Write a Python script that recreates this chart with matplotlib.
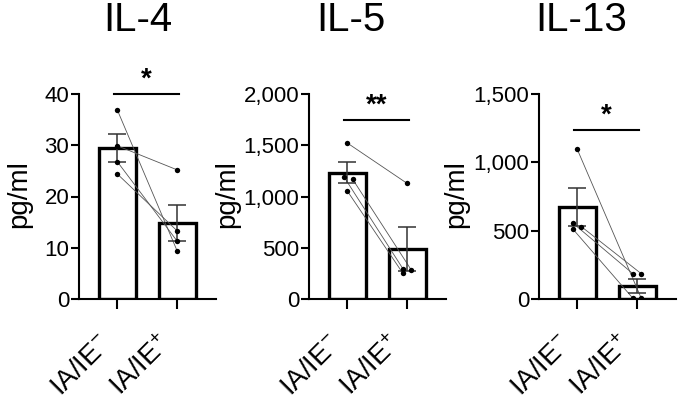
import numpy as np
import matplotlib
matplotlib.use("Agg")
from matplotlib import pyplot as plt
from matplotlib import transforms as mtransforms
from matplotlib.ticker import FuncFormatter, MultipleLocator

plt.rcParams['font.family'] = ['Liberation Sans', 'DejaVu Sans']
plt.rcParams['mathtext.fontset'] = 'custom'
plt.rcParams['mathtext.rm'] = 'Liberation Sans'
plt.rcParams['mathtext.it'] = 'Liberation Sans'

# Data (paired samples, same order in neg/pos)
groups = [r'IA/IE$^{-}$', r'IA/IE$^{+}$']
titles = ['IL-4', 'IL-5', 'IL-13']
il4_neg = [36.9, 29.9, 26.8, 24.4]
il4_pos = [9.4, 25.2, 11.3, 13.3]
il5_neg = [1522, 1187, 1168, 1054]
il5_pos = [1128, 295, 283, 250]
il13_neg = [1095, 554, 529, 510]
il13_pos = [5, 185, 185, 5]
y_max = [40, 2000, 1500]
y_step = [10, 500, 500]
sig_labels = ['*', '**', '*']
sig_heights = [40, 1750, 1240]

panels = [(il4_neg, il4_pos), (il5_neg, il5_pos), (il13_neg, il13_pos)]

# horizontal scatter offsets for overlapping dots
jitter = [
    ([0, 0, 0, 0], [0, 0, 0, 0]),
    ([0, -0.05, 0.09, 0], [0, -0.07, 0.07, -0.07]),
    ([0, -0.07, 0.07, -0.07], [0.07, -0.07, 0.07, -0.07]),
]

fig = plt.figure(figsize=(6.8, 4.12), dpi=100)
lefts = [79, 309, 539]
title_x = [137.5, 350.5, 581]
label_x = [-0.345, -0.505, -0.51]

# offset of the rotated group labels from the tick position
lbl_shift = mtransforms.ScaledTranslation(-19 / 100, -32 / 100, fig.dpi_scale_trans)

for i, (neg, pos) in enumerate(panels):
    ax = fig.add_axes([lefts[i] / 680, 1 - 299 / 412, 137 / 680, 205 / 412])
    x = np.arange(2)
    data = [np.array(neg, float), np.array(pos, float)]
    means = [d.mean() for d in data]
    sems = [d.std(ddof=1) / np.sqrt(len(d)) for d in data]

    ax.bar(x, means, width=0.62, color='white', edgecolor='black', linewidth=2.4, zorder=1)

    xn = x[0] + np.array(jitter[i][0])
    xp = x[1] + np.array(jitter[i][1])
    for a, b, c, d in zip(xn, neg, xp, pos):
        ax.plot([a, c], [b, d], color='#555555', linewidth=0.6, zorder=2)

    ax.errorbar(x, means, yerr=sems, fmt='none', ecolor='#333333', elinewidth=1.1,
                capsize=6.8, capthick=1.1, zorder=3)
    ax.scatter(xn, neg, s=15, color='black', zorder=4, linewidths=0)
    ax.scatter(xp, pos, s=15, color='black', zorder=4, linewidths=0)

    # significance bar
    h = sig_heights[i]
    ax.plot([-0.055, 1.03], [h, h], color='black', linewidth=1.5, clip_on=False)
    ax.text(0.49, h + y_max[i] * 0.005, sig_labels[i], ha='center', va='bottom',
            fontsize=20, fontweight='bold', clip_on=False)

    ax.set_xlim(-0.64, 1.65)
    ax.set_ylim(0, y_max[i])
    ax.yaxis.set_major_locator(MultipleLocator(y_step[i]))
    ax.yaxis.set_major_formatter(FuncFormatter(lambda v, p: '{:,.0f}'.format(v)))
    ax.set_xticks(x)
    ax.set_xticklabels([])
    for xi, g in zip(x, groups):
        ax.text(xi, 0, g, transform=ax.get_xaxis_transform() + lbl_shift, rotation=45,
                ha='right', va='top', rotation_mode='anchor', fontsize=20, clip_on=False)
    ax.tick_params(axis='y', labelsize=16, width=1.5, length=6, pad=1)
    ax.tick_params(axis='x', width=1.5, length=7)
    ax.spines['right'].set_visible(False)
    ax.spines['top'].set_visible(False)
    for s in ['bottom', 'left']:
        ax.spines[s].set_linewidth(1.5)
    ax.set_ylabel('pg/ml', fontsize=20)
    ax.yaxis.set_label_coords(label_x[i], 0.51)

    fig.text(title_x[i] / 680, 1 - 31 / 412, titles[i], ha='center', va='baseline', fontsize=29)

fig.savefig('out.png', dpi=100)
